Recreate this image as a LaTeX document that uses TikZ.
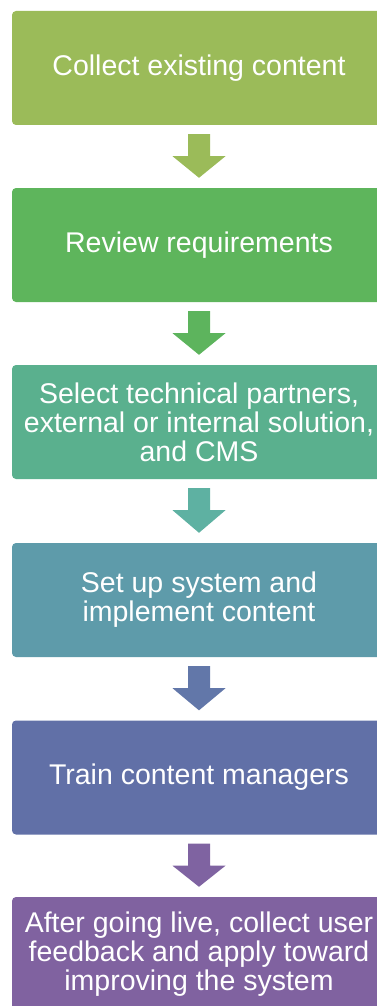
\documentclass[tikz,border=0pt]{standalone}
\usepackage{fontspec}
\setmainfont{Liberation Sans}
\usetikzlibrary{calc}
\definecolor{c1}{HTML}{9BBB59}
\definecolor{c2}{HTML}{5EB55C}
\definecolor{c3}{HTML}{5AB08E}
\definecolor{c4}{HTML}{5E9BAA}
\definecolor{c5}{HTML}{6170A7}
\definecolor{c6}{HTML}{8062A0}
\definecolor{a1}{HTML}{9BBB59}
\definecolor{a2}{HTML}{5DB45D}
\definecolor{a3}{HTML}{5EB1A2}
\definecolor{a4}{HTML}{6277A9}
\definecolor{a5}{HTML}{7F63A1}
\begin{document}
\begin{tikzpicture}[x=1pt,y=-1pt,
  stepbox/.style={rectangle, rounded corners=4pt, minimum width=374pt, minimum height=114pt,
    inner sep=0pt, text=white, align=center, font=\fontsize{28.5}{29}\selectfont}]
\useasboundingbox (0,0) rectangle (377,1006);
\node[stepbox, fill=c1] (b1) at (199,68) {Collect existing content};
\node[stepbox, fill=c2] (b2) at (199,245) {Review requirements};
\node[stepbox, fill=c3] (b3) at (199,422) {Select technical partners,\\external or internal solution,\\and CMS};
\node[stepbox, fill=c4] (b4) at (199,600) {Set up system and\\implement content};
\node[stepbox, fill=c5] (b5) at (199,777.5) {Train content managers};
\node[stepbox, fill=c6] (b6) at (199,954) {After going live, collect user\\feedback and apply toward\\improving the system};
\foreach \p/\q/\c in {b1/b2/a1, b2/b3/a2, b3/b4/a3, b4/b5/a4, b5/b6/a5}{
  \fill[\c] ($(\p.south)+(-11,9)$) -- ($(\p.south)+(11,9)$) -- ($(\p.south)+(11,31)$)
    -- ($(\p.south)+(26.5,31)$) -- ($(\q.north)+(0,-10)$) -- ($(\p.south)+(-26.5,31)$)
    -- ($(\p.south)+(-11,31)$) -- cycle;
}
\end{tikzpicture}
\end{document}
